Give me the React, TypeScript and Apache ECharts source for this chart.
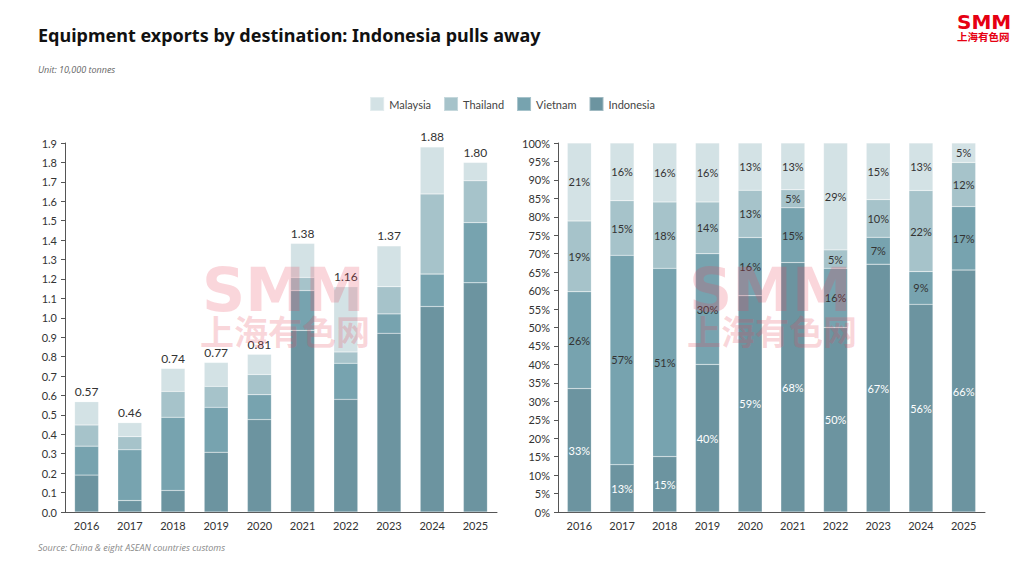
import React, { useEffect, useRef } from "react";
import * as echarts from "echarts";

const years = ["2016", "2017", "2018", "2019", "2020", "2021", "2022", "2023", "2024", "2025"];
const indonesia = [0.19, 0.059, 0.111, 0.308, 0.476, 0.935, 0.58, 0.92, 1.058, 1.18];
const vietnam = [0.149, 0.261, 0.377, 0.231, 0.128, 0.205, 0.186, 0.1, 0.167, 0.31];
const thailand = [0.109, 0.068, 0.133, 0.108, 0.104, 0.068, 0.058, 0.14, 0.413, 0.215];
const malaysia = [0.12, 0.072, 0.118, 0.123, 0.104, 0.175, 0.336, 0.21, 0.242, 0.095];

const seriesNames = ["Indonesia", "Vietnam", "Thailand", "Malaysia"];
const legendOrder = ["Malaysia", "Thailand", "Vietnam", "Indonesia"];
const colors: Record<string, string> = {
  Malaysia: "#d3e2e5",
  Thailand: "#a6c3ca",
  Vietnam: "#77a3af",
  Indonesia: "#6c94a0",
};

const FONT = "Lato, 'Noto Sans', sans-serif";

export default function App() {
  const ref = useRef<HTMLDivElement>(null);
  useEffect(() => {
    document.body.style.margin = "0";
    if (!ref.current) return;
    const chart = echarts.init(ref.current, undefined, { renderer: "svg" });
    const dataSets = [indonesia, vietnam, thailand, malaysia];
    const totals = years.map((_, i) => dataSets.reduce((s, d) => s + d[i], 0));
    const shares = dataSets.map((d) => d.map((v, i) => (v / totals[i]) * 100));

    const absSeries = seriesNames.map((name, k) => ({
      name,
      type: "bar",
      stack: "abs",
      xAxisIndex: 0,
      yAxisIndex: 0,
      barWidth: 24,
      data: dataSets[k],
      itemStyle: { color: colors[name], borderColor: "rgba(255,255,255,0.35)", borderWidth: 0.5 },
      label:
        name === "Malaysia"
          ? {
              show: true,
              position: "top",
              distance: 4,
              color: "#333",
              fontSize: 12,
              fontFamily: FONT,
              formatter: (p: any) => totals[p.dataIndex].toFixed(2),
            }
          : { show: false },
    }));

    const pctSeries = seriesNames.map((name, k) => ({
      name,
      type: "bar",
      stack: "pct",
      xAxisIndex: 1,
      yAxisIndex: 1,
      barWidth: 24,
      data: shares[k],
      itemStyle: { color: colors[name], borderColor: "rgba(255,255,255,0.35)", borderWidth: 0.5 },
      label: {
        show: true,
        position: "inside",
        color: name === "Indonesia" ? "#ffffff" : "#333",
        fontSize: 11,
        fontFamily: FONT,
        formatter: (p: any) => Math.round(p.value) + "%",
      },
    }));

    const axisCommon = {
      axisLine: { show: true, lineStyle: { color: "#555", width: 1 } },
      axisLabel: { color: "#333", fontSize: 11, fontFamily: FONT },
      splitLine: { show: false },
    };

    const wm = (cx: number) => [
      {
        type: "text",
        z: 100,
        left: cx - 84,
        top: 260,
        style: {
          text: "SMM",
          fill: "rgba(232,70,90,0.22)",
          font: "bold 60px 'DejaVu Sans', sans-serif",
        },
      },
      {
        type: "text",
        z: 100,
        left: cx - 86,
        top: 313,
        style: {
          text: "上海有色网",
          fill: "rgba(232,70,90,0.22)",
          font: "bold 34px 'Noto Sans CJK SC', sans-serif",
        },
      },
    ];

    chart.setOption({
      animation: false,
      backgroundColor: "#ffffff",
      title: [
        {
          text: "Equipment exports by destination: Indonesia pulls away",
          left: 33,
          top: 21,
          textStyle: { fontSize: 18, fontWeight: "bold", color: "#111", fontFamily: "'Noto Sans', sans-serif" },
        },
        {
          text: "Unit: 10,000 tonnes",
          left: 33,
          top: 60,
          textStyle: { fontSize: 9, fontStyle: "italic", fontWeight: "normal", color: "#666", fontFamily: "'Open Sans', sans-serif" },
        },
        {
          text: "Source: China & eight ASEAN countries customs",
          left: 33,
          top: 538,
          textStyle: { fontSize: 9, fontStyle: "italic", fontWeight: "normal", color: "#888", fontFamily: "'Open Sans', sans-serif" },
        },
      ],
      legend: {
        data: legendOrder,
        top: 91,
        left: "center",
        icon: "rect",
        itemWidth: 14,
        itemHeight: 14,
        itemGap: 12,
        textStyle: { color: "#444", fontSize: 11, fontFamily: FONT },
      },
      grid: [
        { left: 65, top: 143, width: 432, height: 369, containLabel: false },
        { left: 558, top: 143, width: 427, height: 369, containLabel: false },
      ],
      xAxis: [
        { type: "category", gridIndex: 0, data: years, axisTick: { show: false }, ...axisCommon },
        { type: "category", gridIndex: 1, data: years, axisTick: { show: false }, ...axisCommon },
      ],
      yAxis: [
        {
          type: "value",
          gridIndex: 0,
          min: 0,
          max: 1.9,
          interval: 0.1,
          axisTick: { show: true, length: 4, lineStyle: { color: "#555" } },
          ...axisCommon,
          axisLabel: { ...axisCommon.axisLabel, formatter: (v: number) => v.toFixed(1) },
        },
        {
          type: "value",
          gridIndex: 1,
          min: 0,
          max: 100,
          interval: 5,
          axisTick: { show: true, length: 4, lineStyle: { color: "#555" } },
          ...axisCommon,
          axisLabel: { ...axisCommon.axisLabel, formatter: (v: number) => Math.round(v) + "%" },
        },
      ],
      series: [...absSeries, ...pctSeries],
      graphic: [
        ...wm(286),
        ...wm(773),
        {
          type: "text",
          z: 100,
          left: 957,
          top: 12,
          style: { text: "SMM", fill: "#e60012", font: "bold 20px 'DejaVu Sans', sans-serif" },
        },
        {
          type: "text",
          z: 100,
          left: 957,
          top: 31,
          style: { text: "上海有色网", fill: "#e60012", font: "bold 10.5px 'Noto Sans CJK SC', sans-serif" },
        },
      ],
    });
    return () => chart.dispose();
  }, []);
  return <div ref={ref} style={{ width: 1024, height: 576 }} />;
}
